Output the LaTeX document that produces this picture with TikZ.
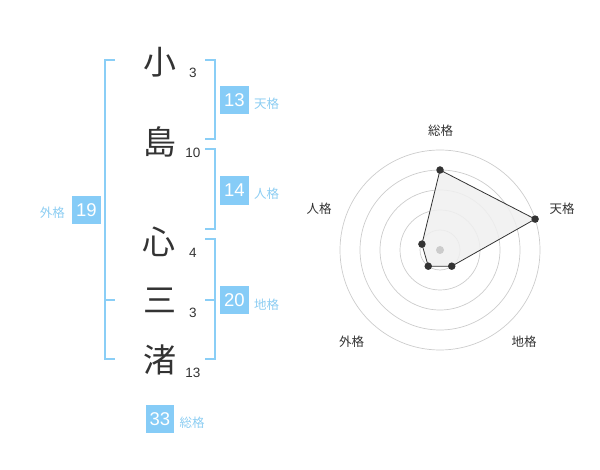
\documentclass[tikz,border=0pt]{standalone}
\usepackage{fontspec}
\usetikzlibrary{calc}
\setmainfont{Liberation Sans}
\newfontfamily\jp{Noto Sans CJK JP}
\definecolor{boxblue}{HTML}{86CCF7}
\definecolor{brblue}{HTML}{8ACEF6}
\definecolor{lblblue}{HTML}{8CCDF2}
\definecolor{ink}{HTML}{333333}
\definecolor{ringgray}{HTML}{CCCCCC}
\definecolor{areagray}{HTML}{F0F0F0}
\begin{document}
\begin{tikzpicture}[x=1pt,y=-1pt,
  kanji/.style={font=\jp\fontsize{33}{33}\selectfont, text=ink, inner sep=0},
  strokes/.style={font=\fontsize{13.5}{13.5}\selectfont, text=ink, inner sep=0},
  numbox/.style={fill=boxblue, text=white, minimum size=28.5pt, inner sep=0, font=\fontsize{18.5}{18.5}\selectfont},
  lbl/.style={font=\jp\fontsize{12.5}{12.5}\selectfont, text=lblblue, inner sep=0},
  bracket/.style={draw=brblue, line width=2pt},
  ring/.style={draw=ringgray, line width=0.7pt},
  axlbl/.style={font=\jp\fontsize{12.5}{12.5}\selectfont, text=ink, inner sep=0},
  pt/.style={circle, fill=ink, inner sep=0, minimum size=7.5pt}
]
\useasboundingbox (0,0) rectangle (600,470);
% name characters
\node[kanji] (k1) at (160,62) {小};
\node[kanji] (k2) at (160,142) {島};
\node[kanji] (k3) at (159,242) {心};
\node[kanji] (k4) at (160,300) {三};
\node[kanji] (k5) at (160,360) {渚};
% stroke counts
\node[strokes] (s1) at (193,73) {3};
\node[strokes] (s2) at (193,153) {10};
\node[strokes] (s3) at (193,253) {4};
\node[strokes] (s4) at (193,313) {3};
\node[strokes] (s5) at (193,373) {13};
% brackets
\draw[bracket] (115,60) -- (105,60) -- (105,359.5) -- (115,359.5);
\draw[bracket] (105,300) -- (115,300);
\draw[bracket] (205,60) -- (214.5,60) -- (214.5,139.5) -- (205,139.5);
\draw[bracket] (205,149.5) -- (214.5,149.5) -- (214.5,229.5) -- (205,229.5);
\draw[bracket] (205,239.5) -- (214.5,239.5) -- (214.5,359.5) -- (205,359.5);
\draw[bracket] (205,300) -- (214.5,300);
% boxes and labels
\node[numbox] (ten) at (234.5,100) {13};
\node[lbl, anchor=west] (tenl) at (254,104) {天格};
\node[numbox] (jin) at (234.5,190.5) {14};
\node[lbl, anchor=west] (jinl) at (254,194) {人格};
\node[numbox] (chi) at (234.5,300) {20};
\node[lbl, anchor=west] (chil) at (254,305) {地格};
\node[numbox] (gai) at (86.5,210) {19};
\node[lbl, anchor=east] (gail) at (65,213) {外格};
\node[numbox] (sou) at (160,419) {33};
\node[lbl, anchor=west] (soul) at (179.5,423) {総格};
% radar chart
\coordinate (c) at (440,250);
\foreach \r in {20,40,60,80,100} \draw[ring] (c) circle (\r);
\coordinate (p1) at ($(c)+(0,-80)$);
\coordinate (p2) at ($(c)+({100*cos(18)},{-100*sin(18)})$);
\coordinate (p3) at ($(c)+({20*cos(-54)},{-20*sin(-54)})$);
\coordinate (p4) at ($(c)+({20*cos(-126)},{-20*sin(-126)})$);
\coordinate (p5) at ($(c)+({19*cos(162)},{-19*sin(162)})$);
\fill[areagray, opacity=0.85] (p1) -- (p2) -- (p3) -- (p4) -- (p5) -- cycle;
\fill[ringgray] (c) circle (4);
\draw[ink, line width=0.8pt] (p1) -- (p2) -- (p3) -- (p4) -- (p5) -- cycle;
\foreach \p in {p1,p2,p3,p4,p5} \node[pt] (d\p) at (\p) {};
\node[axlbl] (a1) at (440.7,130.7) {総格};
\node[axlbl] (a2) at (562,208.7) {天格};
\node[axlbl] (a3) at (524,341.7) {地格};
\node[axlbl] (a4) at (351.7,341.7) {外格};
\node[axlbl] (a5) at (319,208.7) {人格};
\end{tikzpicture}
\end{document}
